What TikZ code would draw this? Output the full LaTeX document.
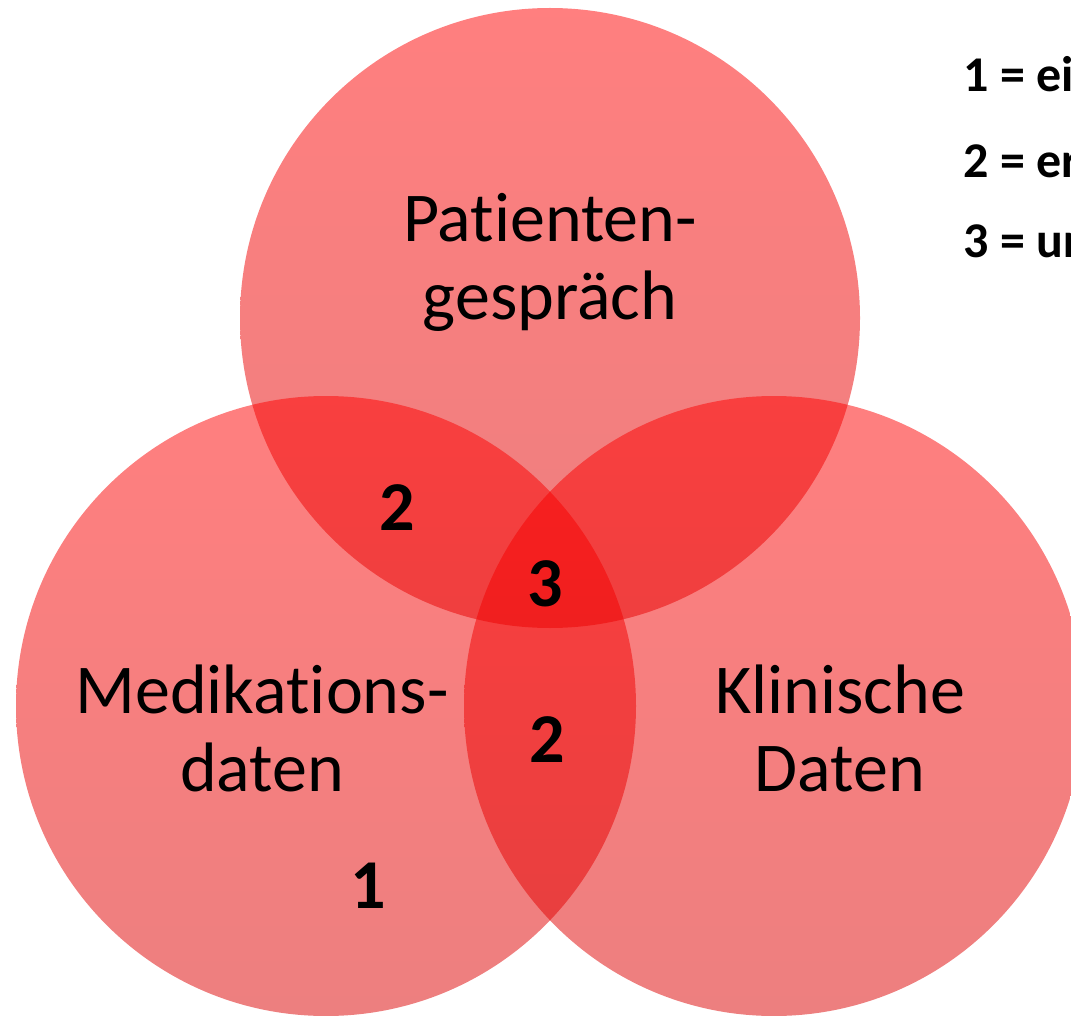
\documentclass[tikz,border=0pt]{standalone}
\usepackage{fontspec}
\setmainfont[Ligatures=NoCommon]{Carlito}
\usetikzlibrary{positioning}

\begin{document}
\begin{tikzpicture}[x=0.5pt,y=0.5pt,
				    set/.style={circle, inner sep=0pt, minimum size=310pt, fill opacity=0.5,
				    top color=red, bottom color=red!86!black},
				    setname/.style={align=center, font=\fontsize{35}{39}\selectfont},
				    count/.style={inner sep=0pt, font=\bfseries\fontsize{35}{39}\selectfont},
				    legend/.style={anchor=base west, inner sep=0pt, font=\bfseries\fontsize{25}{30}\selectfont}]
				  
				  \useasboundingbox (0,0) rectangle (1071,-1016);
				  \clip (0,0) rectangle (1071,-1016);
				  
				  \node[set] (P) at (550,-318) {};
				  \node[set] (M) at (326,-706) {};
				  \node[set] (K) at (774,-706) {};
				  
				  \node[setname] (Pname) at (550,-262) {Patienten-\\gespräch};
				  \node[setname] (Mname) at (262,-728) {Medikations-\\daten};
				  \node[setname] (Kname) at (840,-728) {Klinische\\Daten};
				  
				  \node[count] (PM) at (397,-508) {2};
				  \node[count] (PMK) at (545,-584) {3};
				  \node[count] (MK) at (547,-740) {2};
				  \node[count] (Monly) at (368,-886) {1};
				  
				  \node[legend] (L1) at (963,-92) {1 = ei};
				  \node[legend] (L2) at (963,-178) {2 = er};
				  \node[legend] (L3) at (963,-258) {3 = ur};
				\end{tikzpicture}
\end{document}
